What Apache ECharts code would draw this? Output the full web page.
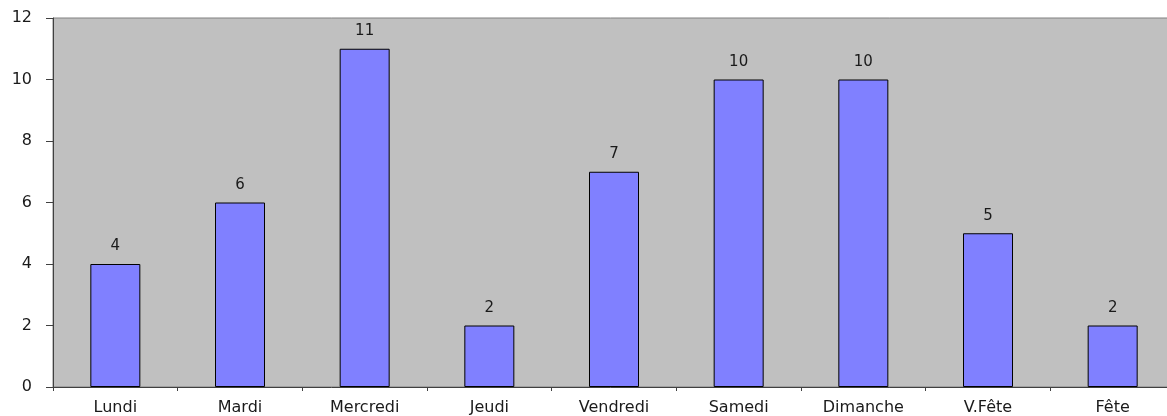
<!DOCTYPE html>
<html>
<head>
<meta charset="utf-8">
<script src="https://cdn.jsdelivr.net/npm/echarts@6/dist/echarts.min.js"></script>
<style>
  html, body { margin: 0; padding: 0; background: #fff; }
  #chart { width: 1167px; height: 416px; }
</style>
</head>
<body>
<div id="chart"></div>
<script>
const days = ['Lundi', 'Mardi', 'Mercredi', 'Jeudi', 'Vendredi', 'Samedi', 'Dimanche', 'V.Fête', 'Fête'];
const counts = [4, 6, 11, 2, 7, 10, 10, 5, 2];

const font = 'DejaVu Sans, Verdana, sans-serif';
const chart = echarts.init(document.getElementById('chart'));

const option = {
  animation: false,
  grid: {
    left: 53,
    top: 18,
    width: 1122,
    height: 369,
    outerBoundsMode: 'none',
    show: true,
    backgroundColor: '#c0c0c0',
    borderColor: '#808080',
    borderWidth: 1
  },
  xAxis: {
    type: 'category',
    data: days,
    axisLine: { lineStyle: { color: '#404040', width: 1 } },
    axisTick: { show: true, length: 4, lineStyle: { color: '#404040' } },
    axisLabel: {
      color: '#1a1a1a',
      fontFamily: font,
      fontSize: 16,
      margin: 13
    }
  },
  yAxis: {
    type: 'value',
    min: 0,
    max: 12,
    interval: 2,
    splitLine: { show: false },
    axisLine: { show: true, lineStyle: { color: '#404040', width: 1 } },
    axisTick: { show: true, length: 7, lineStyle: { color: '#404040' } },
    axisLabel: {
      color: '#1a1a1a',
      fontFamily: font,
      fontSize: 16,
      margin: 21
    }
  },
  series: [{
    type: 'bar',
    data: counts,
    barWidth: 50,
    itemStyle: { color: '#8080ff', borderColor: '#000', borderWidth: 1 },
    label: {
      show: true,
      position: 'top',
      distance: 10,
      color: '#1a1a1a',
      fontFamily: font,
      fontSize: 15
    }
  }]
};

chart.setOption(option);
</script>
</body>
</html>
